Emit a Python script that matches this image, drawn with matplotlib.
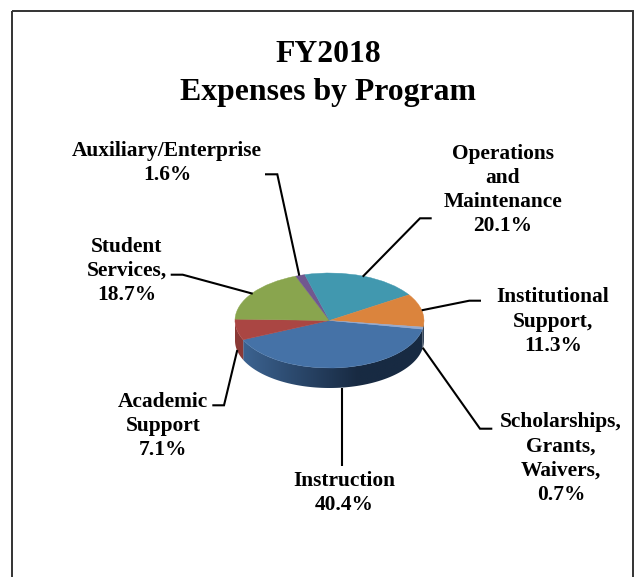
import numpy as np
import matplotlib
matplotlib.use("Agg")
import matplotlib.pyplot as plt
from matplotlib.colors import to_rgb
from matplotlib.patches import Polygon, Rectangle

# ---- data (source order, clockwise) ----
categories = ["Instruction", "Academic\nSupport", "Student\nServices,", "Auxiliary/Enterprise",
              "Operations\nand\nMaintenance", "Institutional\nSupport,", "Scholarships,\nGrants,\nWaivers,"]
values = [40.4, 7.1, 18.7, 1.6, 20.1, 11.3, 0.7]
colors = ["#4572A7", "#AA4643", "#89A54E", "#71588F", "#4198AF", "#DB843D", "#93A9CF"]
title = "FY2018\nExpenses by Program"

# ---- layout (pixels of the 640x577 picture) ----
W, H = 640, 577
CX, CY, RX, RY, DEPTH = 329.5, 320.5, 94.5, 47.5, 20.0
START = -10.5
label_centers = [(344, 493.2), (163, 426), (127, 271), (167, 163), (503, 190), (553, 321.5), (561, 458.3)]
leaders = [
    [(341.7, 466), (341.7, 387.5)],
    [(212.3, 405.3), (224, 405.3), (237.3, 350)],
    [(170.7, 274.7), (182.7, 274.7), (252.7, 293.7)],
    [(265, 174.3), (277.3, 174.3), (299.3, 275.7)],
    [(431.7, 218.3), (420, 218.3), (362.7, 276.7)],
    [(481, 300.7), (469.3, 300.7), (421.7, 310.3)],
    [(492.3, 428.7), (480, 428.7), (422.7, 347.7)],
]

plt.rcParams["font.family"] = ["Liberation Serif", "DejaVu Serif"]
fig = plt.figure(figsize=(W / 100, H / 100), dpi=100, facecolor="white")

# overlay in pixel coordinates
ov = fig.add_axes([0, 0, 1, 1], zorder=3)
ov.set_xlim(0, W); ov.set_ylim(H, 0); ov.axis("off"); ov.patch.set_alpha(0)

# pie axes: unit circle maps onto the RX x RY ellipse
pad = 1.1
low = 1.1 + DEPTH / RY + 0.1
ax_w, ax_h = 2 * pad * RX, (pad + low) * RY
pie_ax = fig.add_axes([(CX - pad * RX) / W, (H - CY - low * RY) / H, ax_w / W, ax_h / H], zorder=2)
pie_ax.patch.set_alpha(0)
wedges, _ = pie_ax.pie(values, colors=colors, startangle=START, counterclock=False,
                       wedgeprops=dict(linewidth=0.3, zorder=5))
for w, c in zip(wedges, colors):
    w.set_edgecolor(c)

# side wall, shaded left to right with a clipped gradient image
d = DEPTH / RY
bounds = START - np.cumsum([0] + values) * 3.6
navy = np.array(to_rgb("#182A42"))
dark = navy / np.array(to_rgb("#4572A7"))
gx = np.linspace(-1, 1, 400)
t = np.clip((gx + 0.95) / 1.25, 0, 1)[:, None]
for i, c in enumerate(colors):
    hi, lo = bounds[i], bounds[i + 1]
    for rng in ((hi, lo), (hi + 360, lo + 360)):
        a1 = min(rng[0], 0); a0 = max(rng[1], -180)
        if a1 <= a0:
            continue
        th = np.radians(np.linspace(a0, a1, 120))
        xs, ys = np.cos(th), np.sin(th)
        pts = np.r_[np.c_[xs, ys], np.c_[xs[::-1], ys[::-1] - d]]
        base = np.array(to_rgb(c))
        if i == 0:
            img = base * (0.88 * (1 - t) + dark * t)
        elif i == 1:
            img = np.tile(base * 0.82, (400, 1))
        else:
            img = np.tile(navy, (400, 1))
        img = np.clip(img, 0, 1)[None, :, :]
        clip = Polygon(pts, closed=True, transform=pie_ax.transData, facecolor="none", edgecolor="none")
        pie_ax.add_patch(clip)
        im = pie_ax.imshow(img, extent=(-1, 1, -1 - d, 1), aspect="auto", origin="lower",
                           interpolation="bilinear", zorder=2)
        im.set_clip_path(clip)

pie_ax.set_aspect("auto")
pie_ax.set_xlim(-pad, pad)
pie_ax.set_ylim(-low, pad)
pie_ax.axis("off")

# chart frame (runs past the bottom of the picture)
ov.add_patch(Rectangle((12, 11), 621, 600, fill=False, ec="#333333", lw=1.4, clip_on=False))

# title, labels, leaders
ov.text(328, 73.5, title, ha="center", va="center", fontsize=22.9, fontweight="bold",
        linespacing=1.41, color="black")
for name, val, (x, y), line in zip(categories, values, label_centers, leaders):
    ov.text(x, y, f"{name}\n{val:.1f}%", ha="center", va="center", fontsize=15.4,
            fontweight="bold", linespacing=1.28, color="black")
    px, py = zip(*line)
    ov.plot(px, py, color="black", lw=1.5, solid_joinstyle="miter", solid_capstyle="butt")

fig.savefig("out.png", dpi=100)
